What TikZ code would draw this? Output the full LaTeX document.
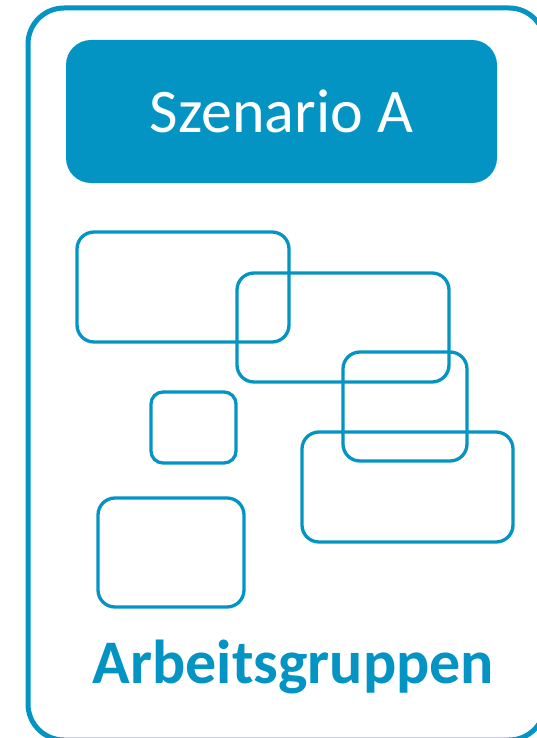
\documentclass[tikz,border=0pt]{standalone}
\usepackage{fontspec}
\setmainfont{Carlito}
\definecolor{szblue}{RGB}{3,148,196}
\tikzset{
  frame/.style={draw=szblue, line width=5pt, rounded corners=36pt},
  grp/.style={draw=szblue, line width=3.3pt, rounded corners=17pt},
  smallgrp/.style={draw=szblue, line width=3.3pt, rounded corners=12pt},
  header/.style={fill=szblue, rounded corners=25pt},
}
\begin{document}
\begin{tikzpicture}[x=1pt,y=-1pt]
\useasboundingbox (0,0) rectangle (537,738);
\clip (0,0) rectangle (537,738);
\draw[frame] (28,8) rectangle (545,740);
\fill[header] (66,40) rectangle (497,183);
\node[anchor=base, text=white, font=\fontsize{62}{70}\selectfont, inner sep=0pt] (title) at (281.5,133) {Szenario A};
\draw[grp] (77,232) rectangle (289,342);
\draw[grp] (237,273) rectangle (449,382);
\draw[grp] (343,352) rectangle (467,461);
\draw[smallgrp] (151,392) rectangle (236,463);
\draw[grp] (302,432) rectangle (513,542);
\draw[grp] (98,498) rectangle (244,607);
\node[anchor=base, text=szblue, font=\bfseries\fontsize{62}{70}\selectfont, inner sep=0pt] (label) at (293.5,683) {Arbeitsgruppen};
\end{tikzpicture}
\end{document}
